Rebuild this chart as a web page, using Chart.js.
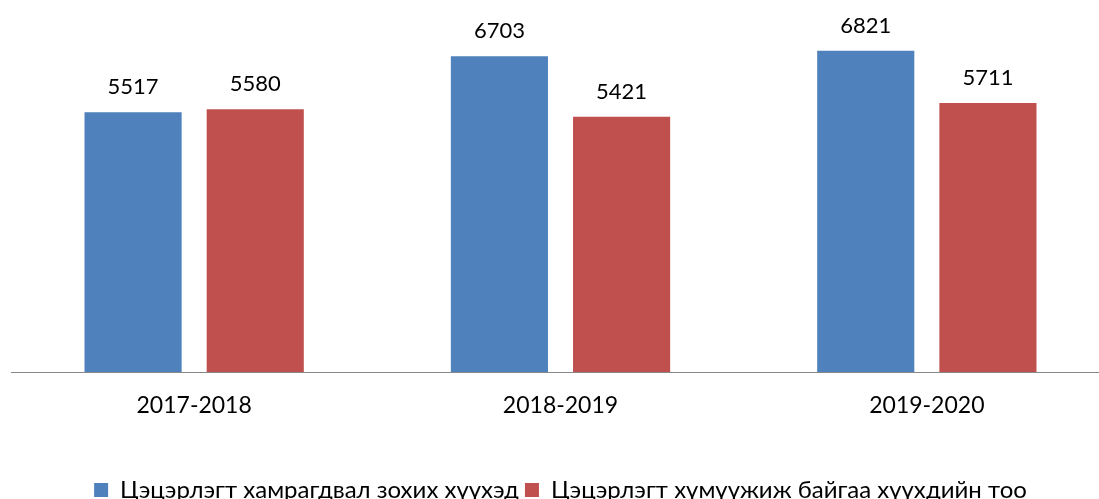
<!DOCTYPE html>
<html>
<head>
<meta charset="utf-8">
<script src="https://cdn.jsdelivr.net/npm/chart.js@4.4.1/dist/chart.umd.min.js"></script>
<style>
  html, body { margin: 0; padding: 0; background: #fff; overflow: hidden; }
  #wrap { width: 1099px; height: 499px; overflow: hidden; }
</style>
</head>
<body>
<div id="wrap"><canvas id="enrolment" width="1110" height="512"></canvas></div>
<script>
const years = ["2017-2018", "2018-2019", "2019-2020"];
const eligible = [5517, 6703, 6821];
const enrolled = [5580, 5421, 5711];
const seriesNames = ["Цэцэрлэгт хамрагдвал зохих хүүхэд", "Цэцэрлэгт хүмүүжиж байгаа хүүхдийн тоо"];

const valueLabels = {
  id: 'valueLabels',
  afterDatasetsDraw(chart) {
    const ctx = chart.ctx;
    ctx.save();
    ctx.font = '22px Lato';
    ctx.fillStyle = '#000';
    ctx.textAlign = 'center';
    ctx.textBaseline = 'alphabetic';
    chart.data.datasets.forEach((ds, i) => {
      chart.getDatasetMeta(i).data.forEach((bar, j) => {
        ctx.fillText(ds.data[j], bar.x, bar.y - 18);
      });
    });
    ctx.restore();
  }
};

const ctx = document.getElementById('enrolment').getContext('2d');

const enrolmentChart = new Chart(ctx, {
  type: 'bar',
  data: {
    labels: years,
    datasets: [{
      label: seriesNames[0],
      data: eligible,
      backgroundColor: '#4F81BD',
      borderWidth: 0
    }, {
      label: seriesNames[1],
      data: enrolled,
      backgroundColor: '#C0504D',
      borderWidth: 0
    }]
  },
  options: {
    responsive: false,
    animation: false,
    devicePixelRatio: 1,
    categoryPercentage: 0.667,
    barPercentage: 0.795,
    layout: {
      padding: { left: 11, right: 0, top: 0, bottom: 0 }
    },
    scales: {
      x: {
        grid: { display: false, drawTicks: false },
        border: { display: true, color: '#898989', width: 1 },
        ticks: {
          color: '#000',
          padding: 20,
          font: { family: 'Lato', size: 23 }
        },
        afterFit(scale) {
          scale.height = 100;
        }
      },
      y: {
        display: false,
        min: 0,
        max: 7900
      }
    },
    plugins: {
      legend: {
        position: 'bottom',
        labels: {
          color: '#000',
          boxWidth: 14,
          boxHeight: 14,
          padding: 6,
          font: { family: 'Lato', size: 24 }
        }
      },
      tooltip: { enabled: false }
    }
  },
  plugins: [valueLabels]
});
</script>
</body>
</html>
